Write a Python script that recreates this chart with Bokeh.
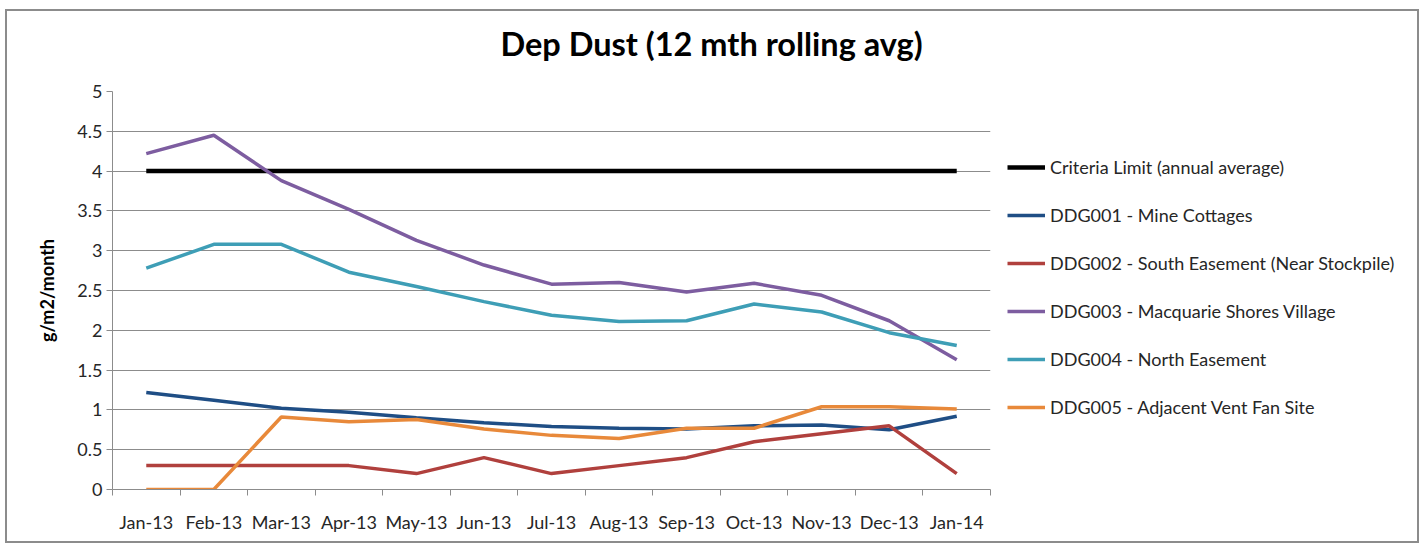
from bokeh.plotting import figure
from bokeh.layouts import row
from bokeh.models import FixedTicker, NumeralTickFormatter, Legend, LegendItem, Range1d, ColumnDataSource, Title
from bokeh.embed import file_html
from bokeh.resources import INLINE

months = ["Jan-13", "Feb-13", "Mar-13", "Apr-13", "May-13", "Jun-13", "Jul-13",
          "Aug-13", "Sep-13", "Oct-13", "Nov-13", "Dec-13", "Jan-14"]
criteria = [4, 4, 4, 4, 4, 4, 4, 4, 4, 4, 4, 4, 4]
ddg001 = [1.22, 1.12, 1.02, 0.97, 0.90, 0.84, 0.79, 0.77, 0.76, 0.80, 0.81, 0.75, 0.92]
ddg002 = [0.3, 0.3, 0.3, 0.3, 0.2, 0.4, 0.2, 0.3, 0.4, 0.6, 0.7, 0.8, 0.2]
ddg003 = [4.22, 4.45, 3.88, 3.52, 3.13, 2.82, 2.58, 2.60, 2.48, 2.59, 2.44, 2.12, 1.63]
ddg004 = [2.78, 3.08, 3.08, 2.73, 2.55, 2.36, 2.19, 2.11, 2.12, 2.33, 2.23, 1.97, 1.81]
ddg005 = [0.0, 0.0, 0.91, 0.85, 0.88, 0.76, 0.68, 0.64, 0.77, 0.77, 1.04, 1.04, 1.01]
y_ticks = [0, 0.5, 1, 1.5, 2, 2.5, 3, 3.5, 4, 4.5, 5]

series_names = ["Criteria Limit (annual average)", "DDG001 - Mine Cottages",
                "DDG002 - South Easement (Near Stockpile)", "DDG003 - Macquarie Shores Village",
                "DDG004 - North Easement", "DDG005 - Adjacent Vent Fan Site"]
series_colors = ["#000000", "#1F4E85", "#B0403D", "#7D5DA0", "#3E9EB6", "#E8893A"]
series_widths = [4.5, 3.5, 3.5, 3.5, 3.5, 3.5]

FONT = "Lato"
TXT = "#262626"

xpos = list(range(len(months)))
src = ColumnDataSource(dict(x=xpos, crit=criteria, d1=ddg001, d2=ddg002, d3=ddg003,
                            d4=ddg004, d5=ddg005))

# ---- main chart ----
p = figure(width=985, height=530, output_backend="svg", toolbar_location=None,
           x_range=Range1d(-0.5, len(months) - 0.5), y_range=Range1d(0, 5),
           min_border_left=105, min_border_right=2, min_border_top=80, min_border_bottom=52)
p.outline_line_color = None
p.background_fill_color = "white"
p.border_fill_color = "white"

cols = ["crit", "d1", "d2", "d3", "d4", "d5"]
main_renderers = []
for c, col, w in zip(cols, series_colors, series_widths):
    main_renderers.append(p.line("x", c, source=src, line_color=col, line_width=w))

# real title (outer), spacer title (added later, sits nearest the frame)
p.title.text = "Dep Dust (12 mth rolling avg)"
p.title.text_font = FONT
p.title.text_font_size = "32.5px"
p.title.text_font_style = "bold"
p.title.align = "left"
p.title.offset = 388
p.title.standoff = 10
p.title.text_color = "#000000"
p.add_layout(Title(text=" ", text_font_size="2px", standoff=20), "above")

# y axis
yax = p.yaxis[0]
yax.ticker = FixedTicker(ticks=y_ticks)
yax.formatter = NumeralTickFormatter(format="0.[0]")
yax.axis_line_color = "#8c8c8c"
yax.major_tick_line_color = "#8c8c8c"
yax.major_tick_out = 6
yax.major_tick_in = 0
yax.minor_tick_line_color = None
yax.major_label_standoff = 4
yax.major_label_text_font = FONT
yax.major_label_text_font_size = "18px"
yax.major_label_text_color = TXT
yax.axis_label = "g/m2/month"
yax.axis_label_text_font = FONT
yax.axis_label_text_font_size = "18px"
yax.axis_label_text_font_style = "bold"
yax.axis_label_text_color = "#000000"
yax.axis_label_standoff = 16

# x axis
xax = p.xaxis[0]
xax.ticker = FixedTicker(ticks=xpos, minor_ticks=[i - 0.5 for i in range(len(months) + 1)])
xax.major_label_overrides = {i: m for i, m in enumerate(months)}
xax.axis_line_color = "#8c8c8c"
xax.major_tick_line_color = None
xax.major_tick_out = 0
xax.major_tick_in = 0
xax.minor_tick_line_color = "#8c8c8c"
xax.minor_tick_out = 6
xax.minor_tick_in = 0
xax.major_label_standoff = 15
xax.major_label_text_font = FONT
xax.major_label_text_font_size = "18px"
xax.major_label_text_color = TXT

p.xgrid.grid_line_color = None
p.ygrid.grid_line_color = "#8c8c8c"
p.ygrid.grid_line_width = 1

# ---- legend panel (proxy renderers sit outside the visible range) ----
q = figure(width=425, height=530, output_backend="svg", toolbar_location=None,
           x_range=Range1d(0, 1), y_range=Range1d(0, 1),
           x_axis_location=None, y_axis_location=None, min_border=0)
q.outline_line_color = None
q.grid.visible = False
q.border_fill_color = "white"
q.background_fill_color = "white"
leg_renderers = [q.line(x=[-5, -4], y=[-5, -5], line_color=col, line_width=w)
                 for col, w in zip(series_colors, series_widths)]
legend = Legend(items=[LegendItem(label=n, renderers=[r]) for n, r in zip(series_names, leg_renderers)],
                location=(15, 71), border_line_color=None, background_fill_alpha=0,
                padding=0, margin=0, spacing=26, glyph_width=38, glyph_height=20,
                label_height=20, label_standoff=5,
                label_text_font=FONT, label_text_font_size="18px", label_text_color=TXT)
q.add_layout(legend, "center")

layout = row(p, q, styles={"border": "2px solid #8c8c8c", "margin-left": "5px",
                           "margin-top": "9px", "background": "white"})

open("out.html", "w").write(file_html(layout, INLINE))
